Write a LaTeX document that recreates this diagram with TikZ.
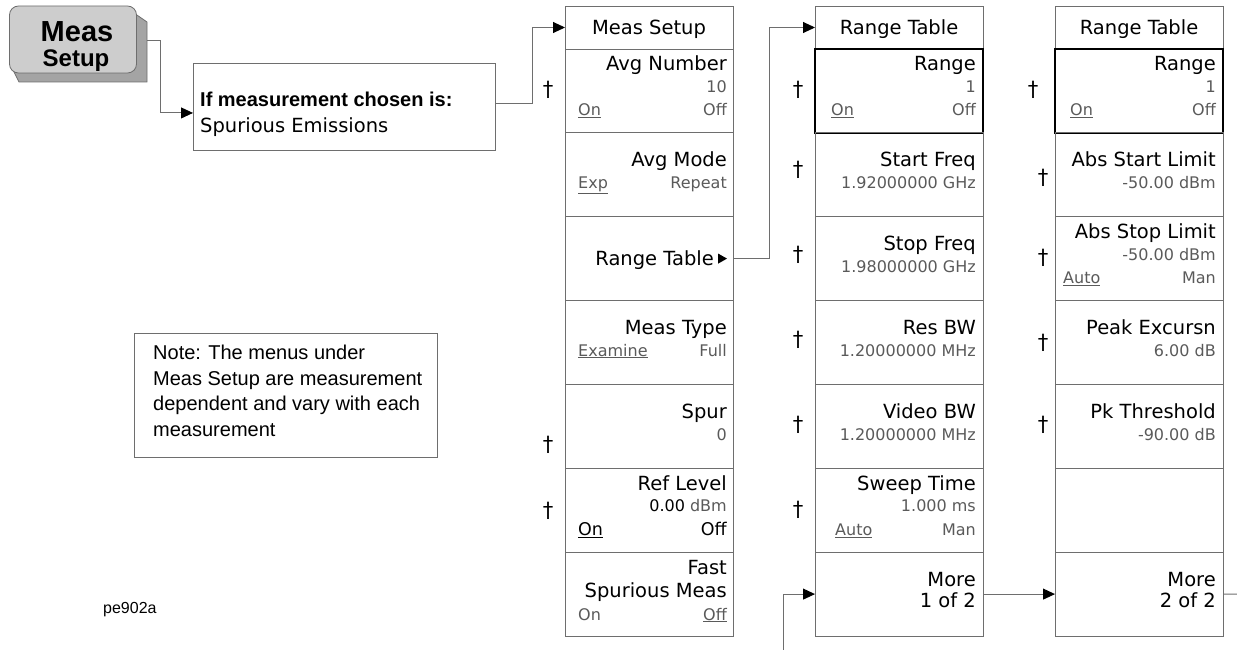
\documentclass[tikz,border=0pt]{standalone}
\usepackage{fontspec}
\setmainfont{Liberation Sans}
\newfontfamily\hp{DejaVu Sans}
\usetikzlibrary{arrows.meta}
\definecolor{linegray}{HTML}{6E6E6E}
\definecolor{valgray}{HTML}{5A5A5A}
\definecolor{keyface}{HTML}{CDCDCD}
\definecolor{keyside}{HTML}{A4A4A4}
\tikzset{
  keybox/.style={draw=linegray, line width=0.9pt, minimum width=168pt, minimum height=83.86pt,
                 anchor=north west, inner sep=0pt, outer sep=0pt},
  titlebox/.style={keybox, minimum height=43pt},
  selbox/.style={keybox, draw=black, line width=2.4pt},
  lbl/.style={font=\hp\fontsize{19.5}{22}\selectfont, anchor=base east, inner sep=0pt},
  ttl/.style={font=\hp\fontsize{19.5}{22}\selectfont, anchor=base, inner sep=0pt},
  val/.style={font=\hp\fontsize{16}{18}\selectfont, text=valgray, anchor=base east, inner sep=0pt},
  valL/.style={val, anchor=base west},
  dag/.style={font=\hp\fontsize{21}{24}\selectfont, inner sep=0pt},
  conn/.style={draw=linegray, line width=0.9pt},
  arr/.style={conn, -{Triangle[length=12pt, width=11pt, color=black]}},
}
\begin{document}
\begin{tikzpicture}[x=1pt, y={(0pt,-1pt)}]
\useasboundingbox (0,0) rectangle (1237,650);

% ---------- hard key ----------
\fill[keyside, draw=linegray, line width=0.8pt]
  (134,13) -- (147,22) -- (147,82) -- (19,82) -- (13,70) -- (134,70) -- cycle;
\node[draw=linegray, fill=keyface, line width=0.8pt, rounded corners=9pt,
      minimum width=127pt, minimum height=67pt, inner sep=0pt] (key) at (73,39.5) {};
\node[font=\bfseries\fontsize{29}{31}\selectfont, anchor=base, inner sep=0pt] (keyA) at (77,42) {Meas};
\node[font=\bfseries\fontsize{24}{26}\selectfont, anchor=base, inner sep=0pt] (keyB) at (76,67) {Setup};
\coordinate (keyout) at (147,40);

% ---------- condition box ----------
\node[draw=linegray, line width=0.9pt, minimum width=302pt, minimum height=87pt,
      anchor=north west, inner sep=0pt] (ifbox) at (193,63) {};
\node[font=\bfseries\fontsize{20}{22}\selectfont, anchor=base west, inner sep=0pt] (iftxt) at (200,107) {If measurement chosen is:};
\node[font=\hp\fontsize{19.5}{22}\selectfont, anchor=base west, inner sep=0pt] (iftxt2) at (200,133) {Spurious Emissions};

% ---------- note ----------
\node[draw=linegray, line width=0.9pt, minimum width=303pt, minimum height=124pt,
      anchor=north west, inner sep=0pt] (notebox) at (134,333) {};
\node[font=\fontsize{20}{25.5}\selectfont, align=left, anchor=north west, inner sep=0pt] (notetxt) at (153,345)
  {Note: The menus under\\Meas Setup are measurement\\dependent and vary with each\\measurement};
\node[font=\fontsize{16}{18}\selectfont, anchor=base west, inner sep=0pt] (fig) at (103,613) {pe902a};

% ---------- column 1 : Meas Setup ----------
\node[titlebox] (c1t) at (565,6) {};
\node[ttl] at (649,35) {Meas Setup};
\node[keybox] (c1r1) at (565,49) {};
\node[keybox] (c1r2) at (565,132.86) {};
\node[keybox] (c1r3) at (565,216.72) {};
\node[keybox] (c1r4) at (565,300.58) {};
\node[keybox] (c1r5) at (565,384.44) {};
\node[keybox] (c1r6) at (565,468.30) {};
\node[keybox] (c1r7) at (565,552.16) {};

\node[lbl] at (727,71) {Avg Number};
\node[val] at (727,92.5) {10};
\node[valL] at (578,116) {\underline{On}};
\node[val] at (727,116) {Off};

\node[lbl] at (727,167) {Avg Mode};
\node[valL] at (578,188.5) {\underline{Exp}};
\node[val] at (727,188.5) {Repeat};

\node[lbl] at (714,265.5) {Range Table};
\fill (718,253.5) -- (727,258.6) -- (718,263.7) -- cycle;

\node[lbl] at (727,334.6) {Meas Type};
\node[valL] at (578,356) {\underline{Examine}};
\node[val] at (727,356) {Full};

\node[lbl] at (727,418.4) {Spur};
\node[val] at (727,440) {0};

\node[lbl] at (727,490.3) {Ref Level};
\node[val] at (727,511.8) {\textcolor{black}{0.00} dBm};
\node[valL, font=\hp\fontsize{17.5}{19}\selectfont, text=black] at (578,535.3) {\underline{On}};
\node[val, font=\hp\fontsize{17.5}{19}\selectfont, text=black] at (727,535.3) {Off};

\node[lbl] at (727,574) {Fast};
\node[lbl] at (727,597) {Spurious Meas};
\node[valL] at (578,620) {On};
\node[val] at (727,620) {\underline{Off}};

\node[dag] at (548,90) {†};
\node[dag] at (548,445) {†};
\node[dag] at (548,511) {†};

% ---------- column 2 : Range Table ----------
\node[titlebox] (c2t) at (815,6) {};
\node[ttl] at (899,35) {Range Table};
\node[selbox] (c2r1) at (815,49) {};
\node[keybox] (c2r2) at (815,132.86) {};
\node[keybox] (c2r3) at (815,216.72) {};
\node[keybox] (c2r4) at (815,300.58) {};
\node[keybox] (c2r5) at (815,384.44) {};
\node[keybox] (c2r6) at (815,468.30) {};
\node[keybox] (c2r7) at (815,552.16) {};

\node[lbl] at (976,71) {Range};
\node[val] at (976,92.5) {1};
\node[valL] at (831,116) {\underline{On}};
\node[val] at (976,116) {Off};

\node[lbl] at (976,167) {Start Freq};
\node[val] at (976,188.5) {1.92000000 GHz};
\node[lbl] at (976,250.7) {Stop Freq};
\node[val] at (976,272) {1.98000000 GHz};
\node[lbl] at (976,334.6) {Res BW};
\node[val] at (976,356) {1.20000000 MHz};
\node[lbl] at (976,418.4) {Video BW};
\node[val] at (976,440) {1.20000000 MHz};
\node[lbl] at (976,490.3) {Sweep Time};
\node[val] at (976,511.8) {1.000 ms};
\node[valL] at (835,535.3) {\underline{Auto}};
\node[val] at (976,535.3) {Man};
\node[lbl] at (976,586) {More};
\node[lbl] at (976,607.6) {1 of 2};

\node[dag] at (798,90) {†};
\node[dag] at (798,170) {†};
\node[dag] at (798,255) {†};
\node[dag] at (798,340) {†};
\node[dag] at (798,425) {†};
\node[dag] at (798,510) {†};

% ---------- column 3 : Range Table ----------
\node[titlebox] (c3t) at (1055,6) {};
\node[ttl] at (1139,35) {Range Table};
\node[selbox] (c3r1) at (1055,49) {};
\node[keybox] (c3r2) at (1055,132.86) {};
\node[keybox] (c3r3) at (1055,216.72) {};
\node[keybox] (c3r4) at (1055,300.58) {};
\node[keybox] (c3r5) at (1055,384.44) {};
\node[keybox] (c3r6) at (1055,468.30) {};
\node[keybox] (c3r7) at (1055,552.16) {};

\node[lbl] at (1216,71) {Range};
\node[val] at (1216,92.5) {1};
\node[valL] at (1070,116) {\underline{On}};
\node[val] at (1216,116) {Off};

\node[lbl] at (1216,167) {Abs Start Limit};
\node[val] at (1216,188.5) {-50.00 dBm};
\node[lbl] at (1216,238.7) {Abs Stop Limit};
\node[val] at (1216,260.2) {-50.00 dBm};
\node[valL] at (1063,283.7) {\underline{Auto}};
\node[val] at (1216,283.7) {Man};
\node[lbl] at (1216,334.6) {Peak Excursn};
\node[val] at (1216,356) {6.00 dB};
\node[lbl] at (1216,418.4) {Pk Threshold};
\node[val] at (1216,440) {-90.00 dB};
\node[lbl] at (1216,586) {More};
\node[lbl] at (1216,607.6) {2 of 2};

\node[dag] at (1033,90) {†};
\node[dag] at (1043,178) {†};
\node[dag] at (1043,258) {†};
\node[dag] at (1043,343) {†};
\node[dag] at (1043,425) {†};

% ---------- connectors ----------
\coordinate (rightend) at (1237,594.1);
\coordinate (botin) at (783,650);
\draw[arr] (keyout) -- ++(13,0) |- ([yshift=-6pt]ifbox.west);
\draw[arr] ([yshift=3pt]ifbox.east) -- ++(37,0) |- (c1t.west);
\draw[arr] (c1r3.east) -- ++(36,0) |- (c2t.west);
\draw[arr] (c2r7.east) -- (c3r7.west);
\draw[conn] (c3r7.east) -- (rightend);
\draw[arr] (botin) |- (c2r7.west);
\end{tikzpicture}
\end{document}
